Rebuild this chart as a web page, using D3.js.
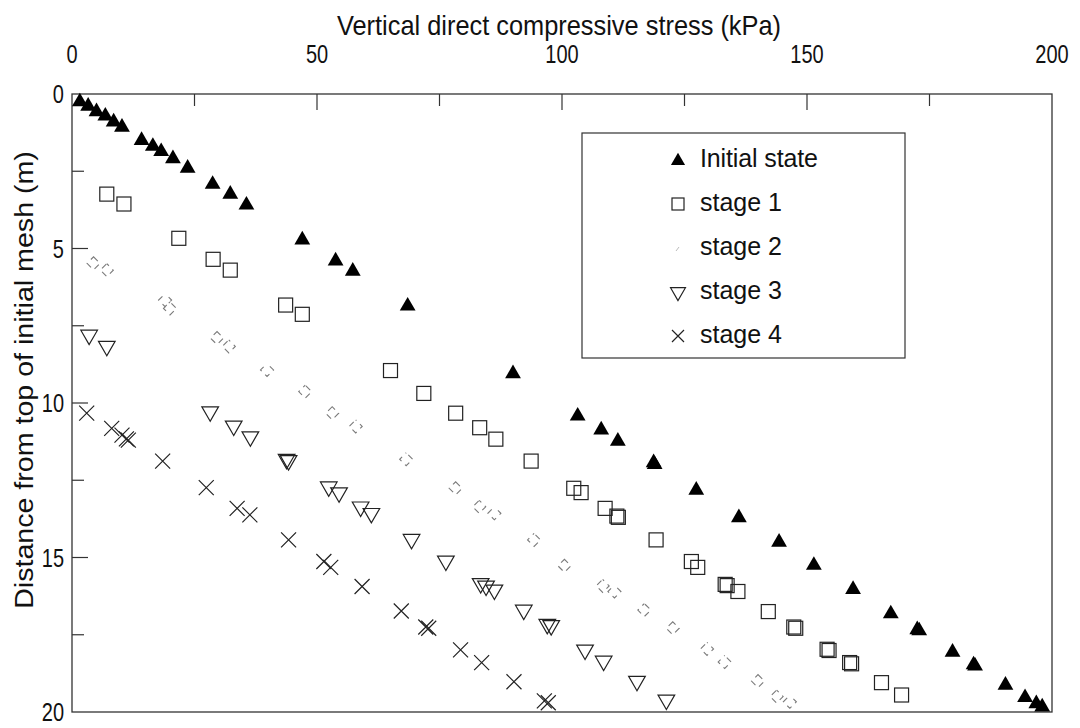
<!DOCTYPE html>
<html>
<head>
<meta charset="utf-8">
<script src="https://cdn.jsdelivr.net/npm/d3@7"></script>
<style>
  body { margin: 0; background: #fff; }
  svg { display: block; }
  text { font-family: "Liberation Sans", Arial, Helvetica, sans-serif; fill: #111; }
</style>
</head>
<body>
<svg id="chart" width="1080" height="728"></svg>
<script>
// Stress (kPa) vs depth below top of initial mesh (m)
const initialStress = [1.6, 3.3, 5.0, 6.8, 8.5, 10.2, 14.2, 16.5, 18.2, 20.6, 23.6, 28.7, 32.3, 35.6, 47.0, 53.8, 57.3, 68.5, 90.0, 103.2, 108.0, 111.4, 118.7, 118.9, 127.4, 136.1, 144.3, 151.4, 159.4, 167.1, 172.5, 172.9, 179.7, 184.0, 184.3, 190.5, 194.5, 196.8, 198.0];
const initialDepth  = [0.22, 0.36, 0.54, 0.68, 0.87, 1.04, 1.47, 1.66, 1.83, 2.06, 2.37, 2.89, 3.21, 3.56, 4.69, 5.37, 5.70, 6.83, 9.02, 10.39, 10.84, 11.20, 11.90, 11.96, 12.79, 13.68, 14.47, 15.22, 16.00, 16.79, 17.30, 17.34, 18.03, 18.44, 18.48, 19.10, 19.50, 19.70, 19.80];

const stage1Stress = [7.1, 10.6, 21.8, 28.8, 32.3, 43.6, 47.0, 65.0, 71.8, 78.3, 83.2, 86.5, 93.7, 102.4, 103.9, 108.8, 111.2, 111.5, 119.2, 126.4, 127.7, 133.3, 133.7, 135.9, 142.1, 147.3, 147.7, 154.1, 154.5, 158.7, 159.1, 165.2, 169.3];
const stage1Depth  = [3.24, 3.56, 4.67, 5.35, 5.70, 6.83, 7.13, 8.95, 9.69, 10.33, 10.80, 11.17, 11.88, 12.76, 12.90, 13.41, 13.66, 13.70, 14.43, 15.13, 15.32, 15.87, 15.91, 16.10, 16.75, 17.25, 17.29, 17.97, 18.01, 18.40, 18.44, 19.05, 19.45];

const stage2Stress = [4.4, 7.1, 19.0, 20.0, 29.6, 32.0, 39.8, 47.6, 53.1, 57.9, 68.2, 78.3, 83.1, 86.2, 94.3, 100.5, 108.3, 110.7, 116.8, 122.6, 129.6, 133.2, 140.0, 143.8, 146.5];
const stage2Depth  = [5.48, 5.70, 6.67, 6.94, 7.90, 8.17, 8.93, 9.63, 10.33, 10.76, 11.82, 12.76, 13.36, 13.57, 14.43, 15.27, 15.92, 16.10, 16.70, 17.29, 17.96, 18.38, 19.00, 19.50, 19.67];

const stage3Stress = [3.5, 7.1, 28.2, 33.0, 36.4, 43.8, 44.2, 52.4, 54.5, 58.9, 61.1, 69.3, 76.3, 83.4, 84.5, 86.2, 92.2, 97.0, 97.8, 104.7, 108.5, 115.3, 121.3];
const stage3Depth  = [7.80, 8.16, 10.28, 10.74, 11.09, 11.82, 11.86, 12.71, 12.90, 13.36, 13.57, 14.41, 15.11, 15.84, 15.92, 16.05, 16.70, 17.16, 17.20, 17.99, 18.35, 19.00, 19.61];

const stage4Stress = [3.0, 8.1, 10.2, 11.1, 11.5, 18.5, 27.4, 33.7, 36.3, 44.2, 51.4, 52.8, 59.2, 67.2, 72.2, 72.8, 79.3, 83.6, 90.2, 96.4, 97.2];
const stage4Depth  = [10.33, 10.82, 11.04, 11.16, 11.20, 11.88, 12.74, 13.41, 13.62, 14.43, 15.13, 15.32, 15.94, 16.73, 17.25, 17.29, 17.99, 18.40, 19.02, 19.64, 19.70];

const seriesNames = ["Initial state", "stage 1", "stage 2", "stage 3", "stage 4"];
const xTicks = [0, 50, 100, 150, 200];
const yTicks = [0, 5, 10, 15, 20];

const svg = d3.select("#chart");
const plot = { left: 72, top: 94, right: 1052, bottom: 712 };

const x = d3.scaleLinear().domain([0, 200]).range([plot.left, plot.right]);
const y = d3.scaleLinear().domain([0, 20]).range([plot.top, plot.bottom]);

// Tall, narrow lettering for numbers and titles
function label(g, tx, ty, str, size, sx, anchor, rot) {
  return g.append("text")
    .attr("transform", `translate(${tx},${ty})${rot ? ` rotate(${rot})` : ""} scale(${sx},1)`)
    .attr("text-anchor", anchor)
    .attr("font-size", size)
    .text(str);
}

// Frame
svg.append("rect")
  .attr("x", plot.left).attr("y", plot.top)
  .attr("width", plot.right - plot.left).attr("height", plot.bottom - plot.top)
  .attr("fill", "none").attr("stroke", "#333").attr("stroke-width", 1.3);

// Top axis: labelled major ticks, short inward ticks every 25 kPa
const topAxis = svg.append("g").attr("transform", `translate(0,${plot.top})`);
topAxis.selectAll("line.tk")
  .data(d3.range(25, 200, 25))
  .join("line")
  .attr("x1", d => x(d)).attr("x2", d => x(d))
  .attr("y1", 0).attr("y2", d => d % 50 === 0 ? 16 : 12)
  .attr("stroke", "#333").attr("stroke-width", 1.2);
xTicks.forEach(d => label(svg, x(d), 63, d, 25, 0.8, "middle"));

// Left axis
const leftAxis = svg.append("g").attr("transform", `translate(${plot.left},0)`);
leftAxis.selectAll("line.tk")
  .data(d3.range(2.5, 20, 2.5))
  .join("line")
  .attr("x1", 0).attr("x2", d => d % 5 === 0 ? 16 : 12)
  .attr("y1", d => y(d)).attr("y2", d => y(d))
  .attr("stroke", "#333").attr("stroke-width", 1.2);
yTicks.forEach(d => label(svg, plot.left - 8, y(d) + 9, d, 25, 0.8, "end"));

// Axis titles
label(svg, 559, 35, "Vertical direct compressive stress (kPa)", 27, 0.94, "middle");
label(svg, 33, 380, "Distance from top of initial mesh (m)", 26, 1.1, "middle", -90);

// Marker painters
const markers = {
  "Initial state": (g, s) => g.append("path")
      .attr("d", d3.symbol(d3.symbolTriangle, s * 7.2)())
      .attr("transform", "translate(0,1)")
      .attr("fill", "#000"),
  "stage 1": (g, s) => g.append("rect")
      .attr("x", -s / 2).attr("y", -s / 2).attr("width", s).attr("height", s)
      .attr("fill", "none").attr("stroke", "#222").attr("stroke-width", 1.2),
  "stage 2": (g, s, i) => g.append("path")
      .attr("d", `M0,${-s * 0.5}L${s * 0.5},0L0,${s * 0.5}L${-s * 0.5},0Z`)
      .attr("fill", "none").attr("stroke", "#7a7a7a").attr("stroke-width", 1.1)
      .attr("stroke-dasharray", "6,5")
      .attr("stroke-dashoffset", (i || 0) * 3),
  "stage 3": (g, s) => g.append("path")
      .attr("d", d3.symbol(d3.symbolTriangle, s * 8)())
      .attr("transform", "rotate(180)")
      .attr("fill", "none").attr("stroke", "#222").attr("stroke-width", 1.2),
  "stage 4": (g, s) => {
    const h = s / 2;
    g.append("path")
      .attr("d", `M${-h},${-h}L${h},${h}M${-h},${h}L${h},${-h}`)
      .attr("fill", "none").attr("stroke", "#222").attr("stroke-width", 1.2);
  }
};
const markerSize = { "Initial state": 15, "stage 1": 14, "stage 2": 13, "stage 3": 15, "stage 4": 15 };

const series = [
  { name: "Initial state", xs: initialStress, ys: initialDepth },
  { name: "stage 1", xs: stage1Stress, ys: stage1Depth },
  { name: "stage 2", xs: stage2Stress, ys: stage2Depth },
  { name: "stage 3", xs: stage3Stress, ys: stage3Depth },
  { name: "stage 4", xs: stage4Stress, ys: stage4Depth }
];

const pts = svg.append("g");
series.slice().reverse().forEach(sr => {
  const data = sr.xs.map((v, i) => ({ s: v, d: sr.ys[i], i }));
  pts.append("g").selectAll("g")
    .data(data)
    .join("g")
    .attr("transform", p => `translate(${x(p.s)},${y(p.d)})`)
    .each(function (p) { markers[sr.name](d3.select(this), markerSize[sr.name], p.i); });
});

// Legend
const lg = svg.append("g");
lg.append("rect")
  .attr("x", 582).attr("y", 133).attr("width", 323).attr("height", 225)
  .attr("fill", "#fff").attr("stroke", "#333").attr("stroke-width", 1.2);
seriesNames.forEach((name, i) => {
  const cy = 159 + i * 44;
  const g = lg.append("g").attr("transform", `translate(678,${cy + 1})`);
  if (name === "stage 2") {
    g.append("path").attr("d", "M-2,3L1,-1").attr("stroke", "#bbb").attr("stroke-width", 1);
  } else {
    markers[name](g, 12);
  }
  lg.append("text")
    .attr("x", 700).attr("y", cy + 8)
    .attr("font-size", 25)
    .attr("textLength", name === "Initial state" ? 118 : null)
    .text(name);
});
</script>
</body>
</html>
